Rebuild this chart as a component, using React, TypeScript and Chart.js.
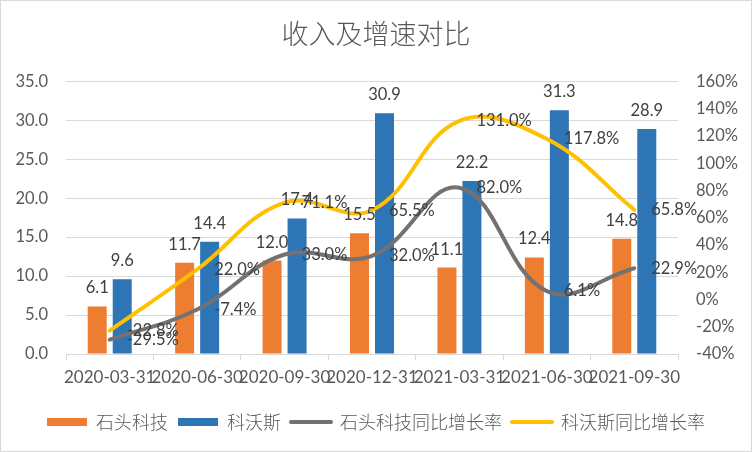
import { useEffect, useRef } from "react";
import { Chart, registerables } from "chart.js";

Chart.register(...registerables);

const categories = ["2020-03-31", "2020-06-30", "2020-09-30", "2020-12-31", "2021-03-31", "2021-06-30", "2021-09-30"];
const shitouRevenue = [6.1, 11.7, 12.0, 15.5, 11.1, 12.4, 14.8];
const kewosiRevenue = [9.6, 14.4, 17.4, 30.9, 22.2, 31.3, 28.9];
const shitouGrowth = [-29.5, -7.4, 33.0, 32.0, 82.0, 6.1, 22.9];
const kewosiGrowth = [-22.8, 22.0, 71.1, 65.5, 131.0, 117.8, 65.8];
const seriesNames = ["石头科技", "科沃斯", "石头科技同比增长率", "科沃斯同比增长率"];
const chartTitle = "收入及增速对比";

const LATIN = "Lato, 'Noto Sans', sans-serif";
const CJK = "'Noto Sans CJK SC', 'Noto Sans', sans-serif";

const dataLabelPlugin = {
  id: "dataLabels",
  afterDraw(chart: any) {
    const ctx = chart.ctx;
    ctx.save();
    ctx.font = `16.5px ${LATIN}`;
    ctx.fillStyle = "#404040";
    chart.data.datasets.forEach((ds: any, i: number) => {
      const meta = chart.getDatasetMeta(i);
      meta.data.forEach((el: any, j: number) => {
        const v = ds.data[j] as number;
        if (ds.type === "line") {
          ctx.textAlign = "left";
          ctx.textBaseline = "middle";
          ctx.fillText(v.toFixed(1) + "%", el.x + 17, el.y);
        } else {
          ctx.textAlign = "center";
          ctx.textBaseline = "alphabetic";
          ctx.fillText(v.toFixed(1), el.x, el.y - 13);
        }
      });
    });
    ctx.restore();
  },
};

export default function App() {
  const canvasRef = useRef<HTMLCanvasElement | null>(null);

  useEffect(() => {
    document.body.style.margin = "0";
    const canvas = canvasRef.current;
    if (!canvas) return;
    const chart = new Chart(canvas, {
      type: "bar",
      data: {
        labels: categories,
        datasets: [
          {
            type: "bar",
            label: seriesNames[0],
            data: shitouRevenue,
            backgroundColor: "#ED7D31",
            borderWidth: 0,
            yAxisID: "y",
            order: 2,
            barPercentage: 0.76,
            categoryPercentage: 0.572,
          },
          {
            type: "bar",
            label: seriesNames[1],
            data: kewosiRevenue,
            backgroundColor: "#2E75B6",
            borderWidth: 0,
            yAxisID: "y",
            order: 2,
            barPercentage: 0.76,
            categoryPercentage: 0.572,
          },
          {
            type: "line",
            label: seriesNames[2],
            data: shitouGrowth,
            borderColor: "#767171",
            backgroundColor: "#767171",
            borderWidth: 4,
            borderCapStyle: "round",
            pointRadius: 0,
            pointStyle: "line",
            tension: 0.4,
            yAxisID: "y1",
            order: 1,
          },
          {
            type: "line",
            label: seriesNames[3],
            data: kewosiGrowth,
            borderColor: "#FFC000",
            backgroundColor: "#FFC000",
            borderWidth: 4,
            borderCapStyle: "round",
            pointRadius: 0,
            pointStyle: "line",
            tension: 0.4,
            yAxisID: "y1",
            order: 1,
          },
        ] as any,
      },
      options: {
        responsive: false,
        animation: false,
        devicePixelRatio: 1,
        layout: { padding: { top: 0, bottom: 10, left: 0, right: 0 } },
        plugins: {
          tooltip: { enabled: false },
          title: {
            display: true,
            text: chartTitle,
            color: "#595959",
            font: { family: CJK, size: 27, weight: 300 as any, lineHeight: 1.2 },
            padding: { top: 17, bottom: 31 },
          },
          legend: {
            position: "bottom",
            labels: {
              color: "#595959",
              font: { family: CJK, size: 18, weight: 300 as any },
              usePointStyle: true,
              pointStyleWidth: 40,
              boxHeight: 8,
              padding: 10,
              sort: (a: any, b: any) => a.datasetIndex - b.datasetIndex,
              generateLabels: (chart: any) =>
                chart.data.datasets.map((ds: any, i: number) => ({
                  text: ds.label,
                  datasetIndex: i,
                  fillStyle: ds.backgroundColor,
                  strokeStyle: ds.borderColor || ds.backgroundColor,
                  lineWidth: ds.type === "line" ? 4 : 0,
                  lineCap: "round",
                  pointStyle: ds.type === "line" ? "line" : "rect",
                  fontColor: "#595959",
                  hidden: false,
                })),
            },
          },
        },
        scales: {
          x: {
            grid: {
              offset: true,
              drawOnChartArea: false,
              drawTicks: true,
              tickLength: 6,
              color: "#D9D9D9",
            },
            border: { display: true, color: "#D9D9D9" },
            ticks: {
              color: "#595959",
              font: { family: LATIN, size: 17 },
              autoSkip: false,
              maxRotation: 0,
              minRotation: 0,
              padding: 7,
            },
            afterFit: (scale: any) => {
              scale.height = 49;
            },
          },
          y: {
            position: "left",
            min: 0,
            max: 35,
            ticks: {
              stepSize: 5,
              color: "#595959",
              font: { family: LATIN, size: 16.5 },
              padding: 18,
              callback: (v: any) => Number(v).toFixed(1),
            },
            grid: { color: "#D9D9D9", drawTicks: false },
            border: { display: false },
            afterFit: (scale: any) => {
              scale.width = 65;
            },
          },
          y1: {
            position: "right",
            min: -40,
            max: 160,
            ticks: {
              stepSize: 20,
              color: "#595959",
              font: { family: LATIN, size: 16.5 },
              padding: 18,
              callback: (v: any) => `${v}%`,
            },
            grid: { display: false, drawTicks: false },
            border: { display: false },
            afterFit: (scale: any) => {
              scale.width = 73;
            },
          },
        },
      },
      plugins: [dataLabelPlugin],
    });
    return () => chart.destroy();
  }, []);

  return (
    <div
      style={{
        width: 752,
        height: 452,
        boxSizing: "border-box",
        border: "1px solid #D9D9D9",
        background: "#FFFFFF",
      }}
    >
      <canvas ref={canvasRef} width={750} height={450} style={{ display: "block" }} />
    </div>
  );
}
